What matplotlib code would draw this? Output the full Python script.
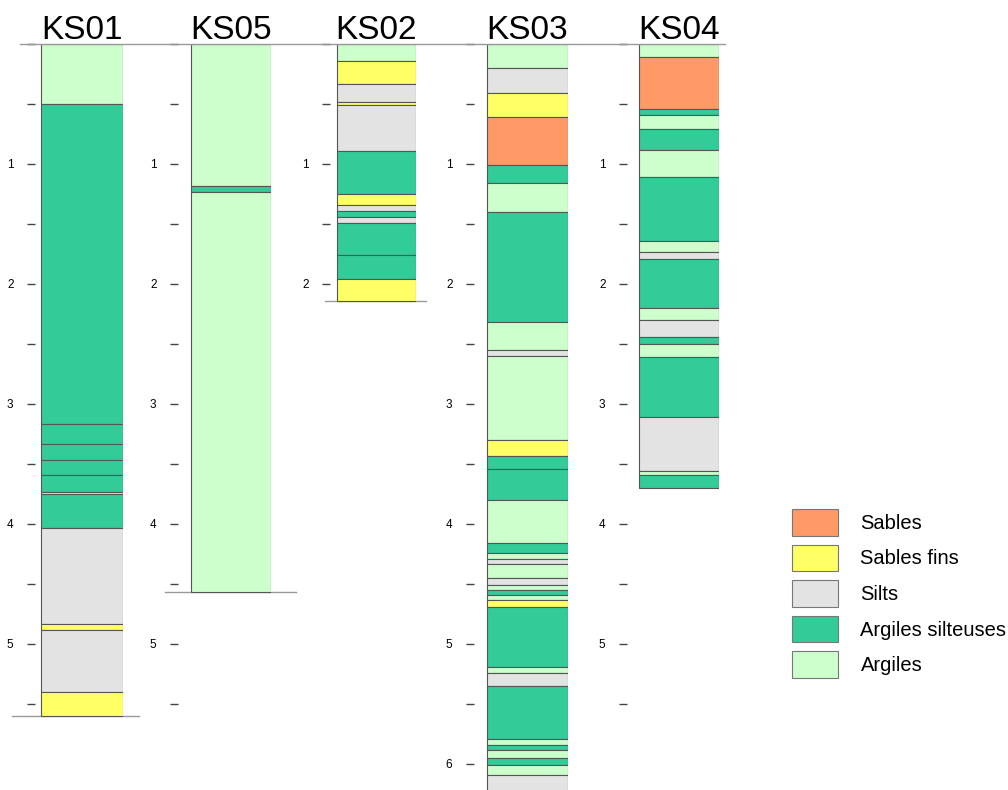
import matplotlib.pyplot as plt
from matplotlib.patches import Patch
from matplotlib.lines import Line2D

plt.rcParams['font.family'] = ['Liberation Sans', 'DejaVu Sans']

# lithology colours
litho_names = ['Sables', 'Sables fins', 'Silts', 'Argiles silteuses', 'Argiles']
litho_codes = ['SA', 'SF', 'S', 'AS', 'A']
litho_colors = ['#FF9966', '#FFFF66', '#E3E3E3', '#33CC99', '#CCFFCC']
color_of = dict(zip(litho_codes, litho_colors))

# depth (m) of the base of each layer, and its lithology
ks01_base = [0.50, 3.17, 3.33, 3.47, 3.59, 3.73, 3.75, 4.03, 4.83, 4.88, 5.40, 5.60]
ks01_lith = ['A', 'AS', 'AS', 'AS', 'AS', 'AS', 'A', 'AS', 'S', 'SF', 'S', 'SF']

ks05_base = [1.18, 1.23, 4.57]
ks05_lith = ['A', 'AS', 'A']

ks02_base = [0.14, 0.33, 0.48, 0.51, 0.89, 1.25, 1.34, 1.39, 1.44, 1.49, 1.76, 1.96, 2.14]
ks02_lith = ['A', 'SF', 'S', 'SF', 'S', 'AS', 'SF', 'S', 'AS', 'S', 'AS', 'AS', 'SF']

ks03_base = [0.20, 0.41, 0.61, 1.01, 1.16, 1.40, 2.32, 2.55, 2.60, 3.30,
             3.43, 3.54, 3.80, 4.16, 4.24, 4.29, 4.33, 4.45, 4.51, 4.55,
             4.59, 4.63, 4.69, 5.19, 5.24, 5.35, 5.79, 5.84, 5.88, 5.95,
             6.01, 6.09, 6.30]
ks03_lith = ['A', 'S', 'SF', 'SA', 'AS', 'A', 'AS', 'A', 'S', 'A',
             'SF', 'AS', 'AS', 'A', 'AS', 'A', 'S', 'A', 'S', 'A',
             'AS', 'A', 'SF', 'AS', 'A', 'S', 'AS', 'A', 'AS', 'A',
             'AS', 'A', 'S']

ks04_base = [0.11, 0.54, 0.59, 0.71, 0.88, 1.11, 1.64, 1.73, 1.79, 2.20,
             2.30, 2.44, 2.50, 2.61, 3.11, 3.56, 3.59, 3.70]
ks04_lith = ['A', 'SA', 'AS', 'A', 'AS', 'A', 'AS', 'A', 'S', 'AS',
             'A', 'S', 'AS', 'A', 'AS', 'S', 'A', 'AS']

names = ['KS01', 'KS05', 'KS02', 'KS03', 'KS04']
bases = [ks01_base, ks05_base, ks02_base, ks03_base, ks04_base]
liths = [ks01_lith, ks05_lith, ks02_lith, ks03_lith, ks04_lith]
tick_max = [5.5, 5.5, 2.0, 6.0, 5.5]

# layout in pixels: (tick end, column left, column right)
W, H = 1008, 790
layout = [(35, 41, 123), (178, 191, 271), (330, 337, 416), (474, 487, 568), (627, 639, 719)]
# extent of the line drawn under each hole (None = no line)
base_line = [(12, 140), (165, 297), (325, 427), None, None]
top_px = 44
px_per_m = 120.0
ymax = (H - top_px) / px_per_m

fig = plt.figure(figsize=(W / 100, H / 100), dpi=100)

for name, base, lith, tmax, bl, (tx, cl, cr) in zip(names, bases, liths, tick_max,
                                                     base_line, layout):
    ax = fig.add_axes([tx / W, 0, (cr - tx) / W, (H - top_px) / H])
    tops = [0] + base[:-1]
    thick = [b - t for b, t in zip(base, tops)]
    cols = [color_of[c] for c in lith]
    ax.bar((cl + cr) / 2, thick, bottom=tops, width=cr - cl, color=cols,
           edgecolor='#555555', linewidth=0.8, align='center')
    ax.set_xlim(tx, cr + 0.5)
    ax.set_ylim(ymax, 0)
    for s in ax.spines.values():
        s.set_visible(False)
    ax.set_xticks([])
    ticks = [i * 0.5 for i in range(int(tmax * 2) + 1)]
    ax.set_yticks(ticks)
    ax.set_yticklabels([str(int(t)) if t == int(t) and t > 0 else '' for t in ticks])
    ax.tick_params(axis='y', direction='out', length=5.5, width=1, color='#444444',
                   pad=10, labelsize=8.5)
    ax.text((cl + cr) / 2, -0.04, name, ha='center', va='baseline', fontsize=24,
            clip_on=False)
    if bl:
        frac = lambda px: (px - tx) / (cr + 0.5 - tx)
        ax.axhline(base[-1], xmin=frac(bl[0]), xmax=frac(bl[1]), color='#999999',
                   linewidth=1, clip_on=False, zorder=0)

# top line
fig.add_artist(Line2D([20 / W, 725 / W], [1 - top_px / H] * 2, color='#999999', linewidth=1))

handles = [Patch(facecolor=c, edgecolor='#777777', linewidth=0.8) for c in litho_colors]
fig.legend(handles, litho_names, loc='upper left', bbox_to_anchor=(792 / W, 1 - 509 / H),
           frameon=False, fontsize=14.5, handlelength=2.3, handleheight=1.65,
           handletextpad=1.1, labelspacing=0.45, borderpad=0, borderaxespad=0)

plt.savefig('out.png', dpi=100)
